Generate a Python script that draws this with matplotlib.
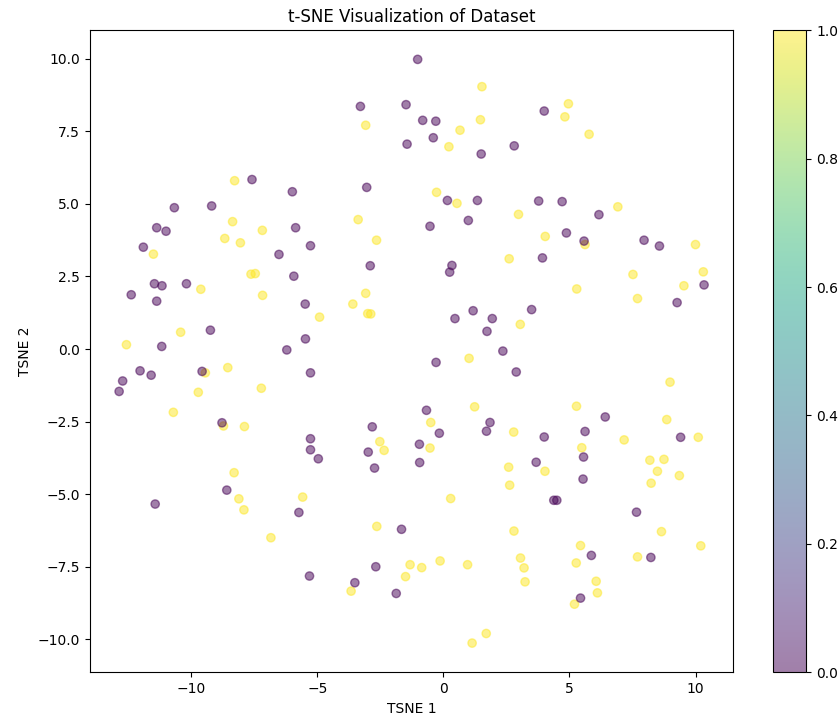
import numpy as np
import matplotlib
matplotlib.use('Agg')
import matplotlib.pyplot as plt

# t-SNE coordinates, grouped by label
tsne1_label0 = [-7.59, -5.99, -10.67, -9.19, -11.37, -11.0, -5.86, -11.9, -5.27,
                -1.02, -3.29, -1.48, -0.82, -0.30, -0.40, -1.44, 1.50, 2.81, -3.04, 0.16, 1.35, 0.99, -0.53,
                4.0, 3.78, 4.71, 6.17, 4.88, 5.58, 7.96, 8.57,
                -6.52, -5.93, -11.46, -11.16, -10.19, -12.38, -11.37, -5.48, -9.24, -5.47, -11.17, -6.21,
                -12.03, -11.59, -9.57, -5.27, -12.72, -12.86, -8.78, -5.27, -5.27,
                -2.9, 0.34, 0.25, 0.46, 1.18, 1.94, 1.73, 2.36, 2.89, -0.29, -0.67, 1.85, 1.71, -2.82,
                -0.16, -0.95, -2.98, -4.96,
                3.93, 10.34, 9.27, 3.50, 6.42, 4.0, 5.62, 9.41, 5.56, 3.68,
                5.54, 4.38, 4.50, 7.66, 5.87, 8.23, 5.44,
                -8.59, -11.43, -5.73, -5.31,
                -2.73, -0.94, -1.66, -2.68, -3.51, -1.87]
tsne2_label0 = [5.84, 5.42, 4.87, 4.93, 4.18, 4.06, 4.18, 3.51, 3.56,
                9.98, 8.36, 8.42, 7.88, 7.85, 7.28, 7.06, 6.72, 7.0, 5.57, 5.12, 5.12, 4.43, 4.23,
                8.20, 5.10, 5.08, 4.63, 4.0, 3.72, 3.75, 3.55,
                3.26, 2.51, 2.25, 2.18, 2.25, 1.87, 1.65, 1.55, 0.65, 0.35, 0.09, -0.03,
                -0.75, -0.90, -0.77, -0.82, -1.1, -1.46, -2.54, -3.09, -3.47,
                2.87, 2.88, 2.65, 1.05, 1.32, 1.05, 0.61, -0.07, -0.79, -0.46, -2.11, -2.53, -2.83, -2.68,
                -2.90, -3.28, -3.55, -3.78,
                3.14, 2.21, 1.60, 1.36, -2.34, -3.03, -2.84, -3.04, -3.72, -3.9,
                -4.48, -5.21, -5.21, -5.62, -7.11, -7.18, -8.58,
                -4.86, -5.34, -5.63, -7.82,
                -4.10, -3.91, -6.21, -7.50, -8.05, -8.42]

tsne1_label1 = [-8.28, -8.36, -7.18, -8.67, -8.05,
                1.53, -3.08, 1.47, 0.66, 0.22, -0.27, 0.54, 2.98, -3.38, -2.65,
                4.96, 4.82, 5.78, 6.92, 4.04, 5.62, 10.0,
                -11.5, -7.63, -7.46, -9.62, -7.17, -10.42, -12.57, -9.44, -8.55, -9.72, -7.22, -10.71, -8.72, -7.89,
                2.61, -3.08, -3.59, -3.0, -2.88, -4.91, 3.05, 1.02, 1.24, -0.50, 2.79, -2.52, -2.35, -0.53,
                7.52, 10.31, 9.54, 5.29, 7.70, 8.99, 5.28, 8.86, 7.17, 10.11, 5.49,
                2.59, 2.63, 4.03, 8.19, 8.75, 8.49, 8.24, 9.36, 2.80, 8.65, 10.21, 5.44, 5.27, 7.70,
                3.06, 3.20, 3.24, 6.06, 6.11, 5.2,
                -8.30, -8.11, -7.91, -5.58, -6.84,
                0.29, -2.64, -1.32, -0.86, -1.50, -0.13, 0.96, -3.66, 1.70, 1.14]
tsne2_label1 = [5.80, 4.39, 4.09, 3.81, 3.66,
                9.04, 7.71, 7.90, 7.54, 6.97, 5.40, 5.02, 4.64, 4.46, 3.75,
                8.45, 8.0, 7.40, 4.90, 3.88, 3.60, 3.60,
                3.27, 2.58, 2.60, 2.06, 1.85, 0.58, 0.15, -0.82, -0.64, -1.49, -1.35, -2.18, -2.65, -2.67,
                3.11, 1.92, 1.55, 1.22, 1.21, 1.10, 0.85, -0.32, -1.99, -2.53, -2.86, -3.19, -3.49, -3.41,
                2.57, 2.66, 2.18, 2.07, 1.74, -1.14, -1.97, -2.43, -3.13, -3.04, -3.40,
                -4.07, -4.69, -4.21, -3.83, -3.80, -4.21, -4.62, -4.36, -6.27, -6.29, -6.78, -6.77, -7.37, -7.16,
                -7.20, -7.54, -8.02, -8.0, -8.40, -8.79,
                -4.26, -5.16, -5.54, -5.10, -6.50,
                -5.15, -6.11, -7.43, -7.53, -7.84, -7.30, -7.43, -8.34, -9.80, -10.13]

tsne_1 = np.array(tsne1_label1 + tsne1_label0)
tsne_2 = np.array(tsne2_label1 + tsne2_label0)
labels = np.array([1] * len(tsne1_label1) + [0] * len(tsne1_label0))

fig = plt.figure(figsize=(8.4, 7.19), dpi=100)
ax = fig.add_axes([0.107, 0.065, 0.766, 0.893])
cax = fig.add_axes([0.920, 0.065, 0.040, 0.893])

scatter = ax.scatter(tsne_1, tsne_2, c=labels, cmap='viridis', alpha=0.5)
fig.colorbar(scatter, cax=cax)

ax.set_title('t-SNE Visualization of Dataset')
ax.set_xlabel('TSNE 1')
ax.set_ylabel('TSNE 2')

fig.savefig('out.png', dpi=100)
